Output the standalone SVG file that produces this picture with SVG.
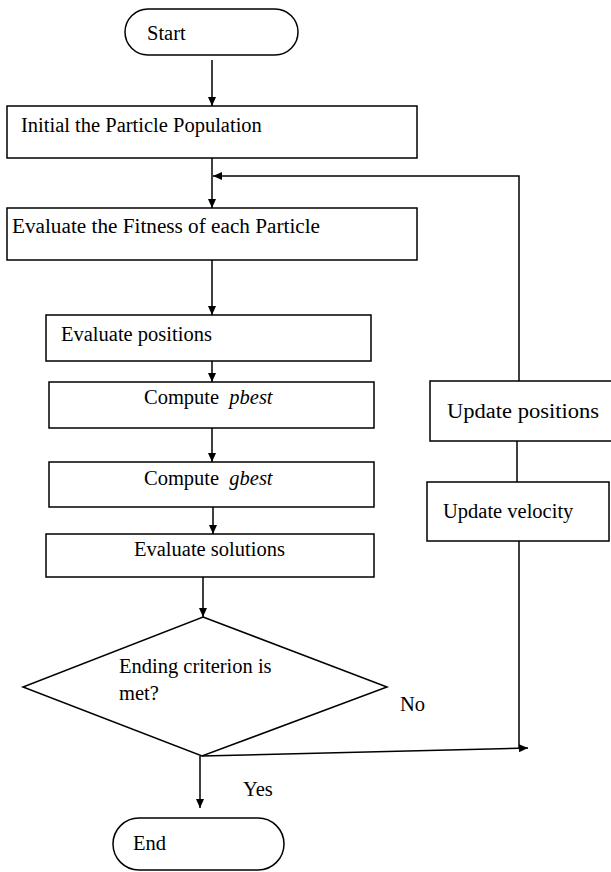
<svg xmlns="http://www.w3.org/2000/svg" width="611" height="872" viewBox="0 0 611 872">
  <style>
    .shape { fill: #ffffff; stroke: #000000; stroke-width: 1.5; }
    .conn { fill: none; stroke: #000000; stroke-width: 1.5; }
    .lbl { font-family: "Liberation Serif", "Times New Roman", serif; font-size: 20.5px; fill: #000000; }
    .it { font-style: italic; }
  </style>
  <defs>
    <marker id="arrow" markerUnits="userSpaceOnUse" markerWidth="9" markerHeight="8" refX="9" refY="4" orient="auto">
      <path d="M0,0 L9,4 L0,8 z" fill="#000000"/>
    </marker>
  </defs>
  <rect width="611" height="872" fill="#ffffff"/>

  <g id="connectors">
    <path class="conn" d="M212,60 V106" marker-end="url(#arrow)"/>
    <path class="conn" d="M212,158 V208" marker-end="url(#arrow)"/>
    <path class="conn" d="M519,381 V176 H213" marker-end="url(#arrow)"/>
    <path class="conn" d="M212,260 V315" marker-end="url(#arrow)"/>
    <path class="conn" d="M212,361 V382" marker-end="url(#arrow)"/>
    <path class="conn" d="M212,428 V462" marker-end="url(#arrow)"/>
    <path class="conn" d="M213,507 V534" marker-end="url(#arrow)"/>
    <path class="conn" d="M203,577 V617" marker-end="url(#arrow)"/>
    <path class="conn" d="M200,756 V808" marker-end="url(#arrow)"/>
    <path class="conn" d="M202,756 L528,748" marker-end="url(#arrow)"/>
    <path class="conn" d="M517,441 V482"/>
    <path class="conn" d="M519,541 V749"/>
  </g>

  <g id="start">
    <rect class="shape" x="125" y="9" width="173" height="46" rx="23" ry="23"/>
    <text class="lbl" x="147" y="40">Start</text>
  </g>
  <g id="init">
    <rect class="shape" x="7" y="106" width="410" height="52"/>
    <text class="lbl" x="21" y="132">Initial the Particle Population</text>
  </g>
  <g id="fitness">
    <rect class="shape" x="7" y="208" width="410" height="52"/>
    <text class="lbl" x="12" y="233" textLength="308" lengthAdjust="spacingAndGlyphs">Evaluate the Fitness of each Particle</text>
  </g>
  <g id="eval-positions">
    <rect class="shape" x="46" y="315" width="325" height="46"/>
    <text class="lbl" x="61" y="341">Evaluate positions</text>
  </g>
  <g id="pbest">
    <rect class="shape" x="49" y="382" width="325" height="46"/>
    <text class="lbl" x="144" y="404">Compute <tspan class="it" dx="5">pbest</tspan></text>
  </g>
  <g id="gbest">
    <rect class="shape" x="49" y="462" width="325" height="45"/>
    <text class="lbl" x="144" y="485">Compute <tspan class="it" dx="5">gbest</tspan></text>
  </g>
  <g id="eval-solutions">
    <rect class="shape" x="46" y="534" width="328" height="43"/>
    <text class="lbl" x="134" y="556">Evaluate solutions</text>
  </g>
  <g id="decision">
    <polygon class="shape" points="203,617 387,687 202,756 23,687"/>
    <text class="lbl" x="119" y="673">Ending criterion is</text>
    <text class="lbl" x="119" y="700">met?</text>
  </g>
  <g id="end">
    <rect class="shape" x="113" y="818" width="171" height="52" rx="26" ry="26"/>
    <text class="lbl" x="133" y="850">End</text>
  </g>
  <g id="update-positions">
    <rect class="shape" x="430" y="381" width="185" height="60"/>
    <text class="lbl" x="447" y="418" textLength="152" lengthAdjust="spacingAndGlyphs">Update positions</text>
  </g>
  <g id="update-velocity">
    <rect class="shape" x="427" y="482" width="182" height="59"/>
    <text class="lbl" x="443" y="518">Update velocity</text>
  </g>
  <g id="labels">
    <text class="lbl" x="400" y="711">No</text>
    <text class="lbl" x="243" y="796">Yes</text>
  </g>
</svg>
